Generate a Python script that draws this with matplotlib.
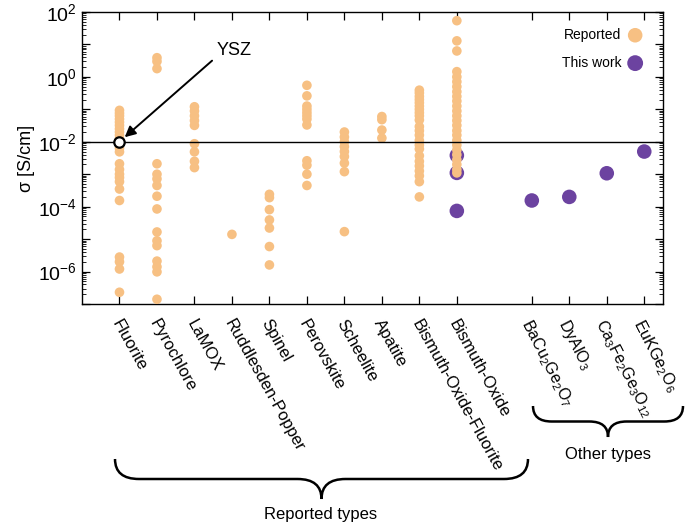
import numpy as np
import matplotlib
matplotlib.use('Agg')
import matplotlib.pyplot as plt
from matplotlib.path import Path
from matplotlib.patches import PathPatch
from matplotlib.ticker import LogLocator, FuncFormatter, NullFormatter

plt.rcParams['font.family'] = ['Liberation Sans', 'DejaVu Sans']
plt.rcParams['mathtext.default'] = 'regular'

# reported structure types (x = 1..10)
reported_types = ['Fluorite', 'Pyrochlore', 'LaMOX', 'Ruddlesden-Popper', 'Spinel',
                  'Perovskite', 'Scheelite', 'Apatite', 'Bismuth-Oxide-Fluorite',
                  'Bismuth-Oxide']
reported_x = [1, 2, 3, 4, 5, 6, 7, 8, 9, 10]

fluorite = [9.3e-2, 7.6e-2, 6.3e-2, 5e-2, 4e-2, 3.2e-2, 2.5e-2, 2e-2, 1.6e-2, 1.25e-2,
            8e-3, 6.3e-3, 4.9e-3, 2.1e-3, 1.4e-3, 1.0e-3, 7.9e-4, 5.9e-4, 3.5e-4,
            1.55e-4, 2.8e-6, 2e-6, 1.2e-6, 2.3e-7]
pyrochlore = [3.9, 3.0, 1.8, 2.1e-3, 1.0e-3, 7.2e-4, 4.5e-4, 2.1e-4, 8.5e-5, 1.66e-5,
              8.9e-6, 6.3e-6, 2.1e-6, 1.4e-6, 9.8e-7, 1.4e-7]
lamox = [0.12, 8.9e-2, 6.3e-2, 4.5e-2, 3.2e-2, 8.7e-3, 4.9e-3, 2.5e-3, 1.6e-3]
ruddlesden = [1.4e-5]
spinel = [2.4e-4, 1.9e-4, 8.1e-5, 3.9e-5, 2.2e-5, 5.9e-6, 1.6e-6]
perovskite = [0.55, 0.26, 0.126, 0.1, 7.9e-2, 6.3e-2, 5e-2, 3.3e-2, 2.6e-3, 1.9e-3,
              1.0e-3, 4.5e-4]
scheelite = [2e-2, 1.4e-2, 1e-2, 7.1e-3, 5e-3, 3.5e-3, 2.2e-3, 1.2e-3, 1.7e-5]
apatite = [6e-2, 4.8e-2, 2.3e-2, 1.3e-2]
bi_oxide_fluorite = [0.39, 0.32, 0.25, 0.2, 0.16, 0.126, 0.1, 7.9e-2, 6.3e-2, 4.7e-2,
                     2.95e-2, 2.2e-2, 1.6e-2, 1.1e-2, 7.9e-3, 6e-3, 3.7e-3, 2.5e-3,
                     1.8e-3, 1.26e-3, 8.9e-4, 5.9e-4, 2e-4]
bi_oxide = [54, 12.9, 6.3, 1.45, 1.0, 0.71, 0.5, 0.35, 0.25, 0.18, 0.126, 8.9e-2,
            6.3e-2, 4.5e-2, 3.2e-2, 2.2e-2, 1.6e-2, 1.1e-2, 7.9e-3, 5.6e-3, 4e-3,
            2.8e-3, 2e-3, 1.4e-3, 1.1e-3]
reported_values = [fluorite, pyrochlore, lamox, ruddlesden, spinel, perovskite,
                   scheelite, apatite, bi_oxide_fluorite, bi_oxide]

# this work
work_x = [10, 10, 10, 12, 13, 14, 15]
work_values = [3.8e-3, 1.1e-3, 7.4e-5, 1.55e-4, 2e-4, 1.07e-3, 5e-3]

other_types = [r'BaCu$_2$Ge$_2$O$_7$', r'DyAlO$_3$', r'Ca$_3$Fe$_2$Ge$_3$O$_{12}$',
               r'EuKGe$_2$O$_6$']
other_x = [12, 13, 14, 15]

ysz_x, ysz_value = 1, 1e-2

orange = '#F7C083'
purple = '#6C43A0'

fig = plt.figure(figsize=(6.85, 5.24), dpi=100)
ax = fig.add_axes([82 / 685, 1 - 304 / 524, 581 / 685, 292 / 524])

ax.scatter(work_x, work_values, s=110, color=purple, edgecolors='none', zorder=2,
           label='This work')
for xv, vals in zip(reported_x, reported_values):
    ax.scatter([xv] * len(vals), vals, s=48, color=orange, edgecolors='none', zorder=3)
h_rep = ax.scatter([], [], s=110, color=orange, edgecolors='none', label='Reported')
h_work = ax.scatter([], [], s=130, color=purple, edgecolors='none')

ax.axhline(1e-2, color='black', lw=1.0, zorder=4)
ax.plot([ysz_x], [ysz_value], 'o', ms=7.5, mfc='white', mec='black', mew=1.6, zorder=5)
ax.annotate('', xy=(ysz_x, ysz_value), xytext=(3.47, 10 ** 0.5),
            arrowprops=dict(arrowstyle='-|>', color='black', lw=1.4,
                            mutation_scale=16, shrinkA=0, shrinkB=5), zorder=6)
ax.text(3.6, 10 ** 0.82, 'YSZ', fontsize=13, ha='left', va='center')

ax.set_yscale('log')
ax.set_ylim(1e-7, 1e2)
ax.set_xlim(0, 15.5)
ax.yaxis.set_major_locator(LogLocator(base=10, numticks=20))
ax.yaxis.set_minor_locator(LogLocator(base=10, subs=np.arange(2, 10), numticks=20))
ax.yaxis.set_major_formatter(FuncFormatter(
    lambda v, p: r'$10^{%d}$' % round(np.log10(v)) if round(np.log10(v)) % 2 == 0 else ''))
ax.yaxis.set_minor_formatter(NullFormatter())
ax.set_ylabel('σ [S/cm]', fontsize=13, labelpad=2)

ax.set_xticks(reported_x + other_x)
ax.set_xticklabels([])
ax.tick_params(axis='both', which='both', direction='in', top=True, right=True)
ax.tick_params(axis='both', which='major', length=6, width=0.9, labelsize=14)
ax.tick_params(axis='y', which='minor', length=3, width=0.6)
for s in ax.spines.values():
    s.set_linewidth(1.0)

for xv, lab in zip(reported_x, reported_types):
    ax.annotate(lab, xy=(xv, 0), xycoords=('data', 'axes fraction'),
                xytext=(-3, -12), textcoords='offset points', rotation=-61,
                rotation_mode='anchor', ha='left', va='center', fontsize=12)
for xv, lab in zip(other_x, other_types):
    ax.annotate(lab, xy=(xv, 0), xycoords=('data', 'axes fraction'),
                xytext=(-5, -12), textcoords='offset points', rotation=-63,
                rotation_mode='anchor', ha='left', va='center', fontsize=11.5)

ax.legend(handles=[h_rep, h_work], labels=['Reported', 'This work'], loc='upper right',
          bbox_to_anchor=(1 - 7 / 581, 1 - 2 / 292),
          markerfirst=False, frameon=False, fontsize=10, handletextpad=0.5,
          labelspacing=1.0, borderaxespad=0.6, handlelength=1.0)


def brace(x0, x1, ytop, h, W=685, H=524):
    # curly brace opening upward, tip pointing down; pixel coords from top-left
    xm = (x0 + x1) / 2
    r = h * 0.6
    ym = ytop + h / 2
    yb = ytop + h
    pts = [(x0, ytop), (x0, ym), (x0 + r, ym), (xm - r, ym), (xm, ym), (xm, yb),
           (xm, ym), (xm + r, ym), (x1 - r, ym), (x1, ym), (x1, ytop)]
    codes = [Path.MOVETO, Path.CURVE3, Path.CURVE3, Path.LINETO, Path.CURVE3, Path.CURVE3,
             Path.CURVE3, Path.CURVE3, Path.LINETO, Path.CURVE3, Path.CURVE3]
    pts = [(px / W, 1 - py / H) for px, py in pts]
    fig.patches.append(PathPatch(Path(pts, codes), transform=fig.transFigure,
                                 fill=False, lw=1.8, color='black'))


brace(115, 528, 459, 40)
brace(533, 683, 406, 31)
fig.text(321 / 685, 1 - 515 / 524, 'Reported types', fontsize=12, ha='center', va='center')
fig.text(608 / 685, 1 - 455 / 524, 'Other types', fontsize=12, ha='center', va='center')

fig.savefig('out.png', dpi=100)
